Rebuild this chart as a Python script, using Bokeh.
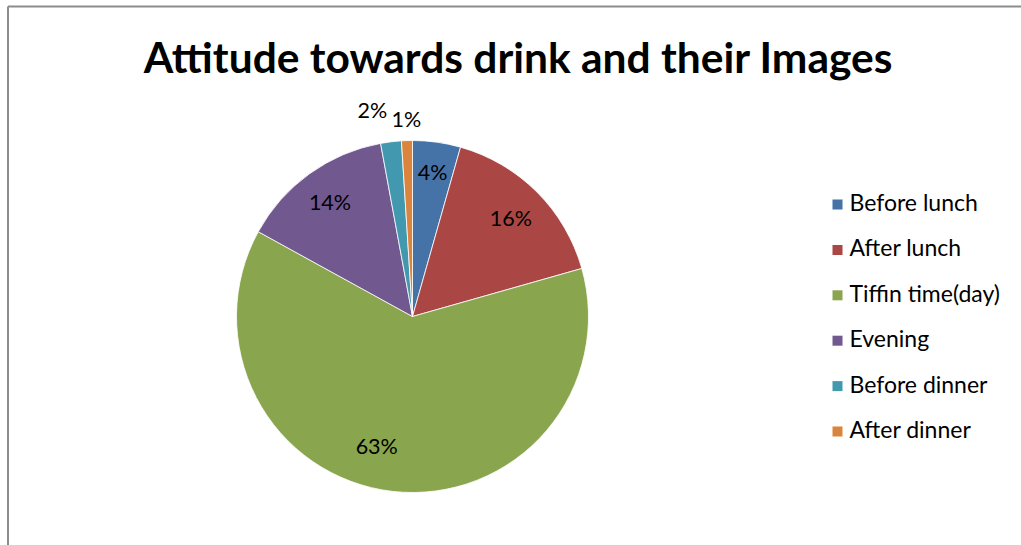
import math
from bokeh.plotting import figure
from bokeh.models import Range1d, ColumnDataSource
from bokeh.core.properties import value
from bokeh.embed import file_html
from bokeh.resources import INLINE

# ---- data ----
categories = ["Before lunch", "After lunch", "Tiffin time(day)", "Evening", "Before dinner", "After dinner"]
shares = [4.4, 16.2, 62.4, 14.1, 1.9, 1.0]
labels = ["4%", "16%", "63%", "14%", "2%", "1%"]
colors = ["#4572A7", "#AA4643", "#89A54E", "#71588F", "#4198AF", "#DB843D"]
title_text = "Attitude towards drink and their Images"

# ---- layout ----
W, H = 1021, 545
FONT = "Lato"
cx, cy, R = 412, H - 316, 176
label_r = [146, 139, 134, 141, 210, 198]
label_da = [0, 0, 9, 0, -4, 0]  # degrees offset (clockwise positive)

total = sum(shares)
starts, ends, mids = [], [], []
acc = 0.0
for s in shares:
    a0 = math.pi / 2 - 2 * math.pi * acc / total
    acc += s
    a1 = math.pi / 2 - 2 * math.pi * acc / total
    starts.append(a0)
    ends.append(a1)
    mids.append((a0 + a1) / 2)

p = figure(width=W, height=H, output_backend="svg", toolbar_location=None,
           x_range=Range1d(0, W), y_range=Range1d(0, H), min_border=0)
p.axis.visible = False
p.grid.visible = False
p.outline_line_color = None
p.background_fill_color = "white"
p.border_fill_color = "white"

# frame border (left and top only visible)
p.segment(x0=[7.5, 7.5], y0=[0, H - 6], x1=[7.5, W], y1=[H - 6, H - 6],
          line_color="#8c8c8c", line_width=2)

src = ColumnDataSource(dict(start=starts, end=ends, color=colors))
p.wedge(x=cx, y=cy, radius=R, start_angle="start", end_angle="end", direction="clock",
        fill_color="color", line_color="white", line_width=0.8, source=src)

lx, ly = [], []
for m, r, da in zip(mids, label_r, label_da):
    a = m - math.radians(da)
    lx.append(cx + r * math.cos(a))
    ly.append(cy + r * math.sin(a))
p.text(x=lx, y=ly, text=labels, text_font=value(FONT), text_font_size="21.5px",
       text_align="center", text_baseline="middle", text_color="black")

# title
p.text(x=[518], y=[H - 56], text=[title_text], text_font=value(FONT),
       text_font_size="42.5px", text_font_style="bold", text_align="center",
       text_baseline="middle", text_color="black")

# legend
leg_x, leg_y0, leg_step = 837, H - 204, 45.4
sq_x = [leg_x] * len(categories)
sq_y = [leg_y0 - i * leg_step for i in range(len(categories))]
p.rect(x=sq_x, y=sq_y, width=10, height=10, fill_color=colors, line_color=None)
p.text(x=[leg_x + 12] * len(categories), y=[y + 2.5 for y in sq_y], text=categories,
       text_font=value(FONT), text_font_size="23px", text_align="left",
       text_baseline="middle", text_color="black")

open("out.html", "w").write(file_html(p, INLINE))
